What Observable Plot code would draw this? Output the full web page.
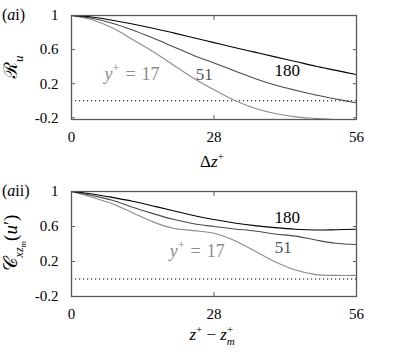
<!DOCTYPE html>
<html><head><meta charset="utf-8">
<script src="https://cdn.jsdelivr.net/npm/d3@7"></script>
<script src="https://cdn.jsdelivr.net/npm/@observablehq/plot@0.6"></script>
<style>
body{margin:0;background:#fff}
#chart{width:395px;height:353px}
#chart svg{display:block}
</style>
</head><body><div id="chart"></div><script>
// ---- data ----
const dz = [0, 4, 8, 12, 16, 20, 24, 28, 32, 36, 40, 44, 48, 52, 56];
// panel (ai): R_u
const ru17  = [1, 0.95, 0.855, 0.719, 0.578, 0.42, 0.264, 0.129, 0.005, -0.088, -0.15, -0.189, -0.207, -0.222, -0.23];
const ru51  = [1, 0.968, 0.91, 0.83, 0.735, 0.634, 0.532, 0.443, 0.353, 0.262, 0.185, 0.123, 0.068, 0.02, -0.024];
const ru180 = [1, 0.982, 0.945, 0.901, 0.851, 0.796, 0.739, 0.682, 0.625, 0.57, 0.515, 0.461, 0.405, 0.356, 0.306];
// panel (aii): C_xzm(u')
const c17  = [1, 0.935, 0.86, 0.758, 0.653, 0.58, 0.553, 0.522, 0.44, 0.321, 0.196, 0.102, 0.05, 0.041, 0.041];
const c51  = [1, 0.955, 0.9, 0.82, 0.747, 0.682, 0.632, 0.60, 0.572, 0.549, 0.515, 0.49, 0.445, 0.408, 0.394];
const c180 = [1, 0.972, 0.933, 0.889, 0.835, 0.781, 0.726, 0.68, 0.64, 0.61, 0.587, 0.569, 0.56, 0.563, 0.569];

const xTicks = [0, 28, 56];
const xTickLabels = ["0", "28", "56"];
const yTicks = [-0.2, 0.2, 0.6, 1];
const yTickLabels = ["-0.2", "0.2", "0.6", "1"];

const seriesNames = ["17", "51", "180"];
const seriesColors = {"17": "#8c8c8c", "51": "#4a4a4a", "180": "#000000"};
const labelColors = {"17": "#8c8c8c", "51": "#555555", "180": "#000000"};

// curve labels (data coordinates)
const labelsA = [
  {key: "17", x: 12.0, y: 0.307},
  {key: "51", x: 26.1, y: 0.307},
  {key: "180", x: 42.4, y: 0.36}
];
const labelsB = [
  {key: "17", x: 24.8, y: 0.309},
  {key: "51", x: 41.6, y: 0.354},
  {key: "180", x: 42.4, y: 0.697}
];

const FONT = "'Liberation Serif', 'DejaVu Serif', 'Noto Serif', 'Times New Roman', Times, 'Liberation Sans', serif";
const frameColor = "#5a5a5a";

function panel(height, yDomain, vals, labels) {
  const marks = [
    Plot.ruleY([0], {stroke: "#000", strokeWidth: 1, strokeDasharray: "1.2,2.8"})
  ];
  seriesNames.forEach((k, j) => {
    const rows = dz.map((x, i) => ({x, y: vals[j][i]}));
    marks.push(Plot.line(rows, {x: "x", y: "y", stroke: seriesColors[k], strokeWidth: 1.1, curve: "catmull-rom", clip: true}));
  });
  marks.push(
    Plot.frame({stroke: frameColor, strokeWidth: 1.3}),
    Plot.axisY(yTicks, {anchor: "left", tickSize: 0, tickPadding: 13, fontSize: 15, tickFormat: d => yTickLabels[yTicks.indexOf(d)], label: null}),
    Plot.axisY(yTicks, {anchor: "left", tickSize: -4, stroke: frameColor, fill: "none", label: null}),
    Plot.axisY(yTicks, {anchor: "right", tickSize: -4, stroke: frameColor, fill: "none", label: null}),
    Plot.axisX(xTicks, {anchor: "bottom", tickSize: 0, tickPadding: 12, fontSize: 15, tickFormat: d => xTickLabels[xTicks.indexOf(d)], label: null}),
    Plot.axisX(xTicks, {anchor: "bottom", tickSize: -4, stroke: frameColor, fill: "none", label: null}),
    Plot.axisX(xTicks, {anchor: "top", tickSize: -4, stroke: frameColor, fill: "none", label: null}),
    Plot.text(labels.filter(d => d.key !== "17"), {x: "x", y: "y", text: "key", fill: d => labelColors[d.key], fontSize: 17})
  );
  return Plot.plot({
    width: 395, height,
    marginLeft: 71, marginRight: 39, marginTop: 15, marginBottom: 57,
    x: {domain: [0, 56], label: null},
    y: {domain: yDomain, label: null},
    style: {fontFamily: FONT, fontSize: "16px", color: "#000", background: "#fff", overflow: "visible"},
    marks
  });
}

// rich text helper: parts = [{t, it, sh (em shift, + is up), fs, dx}]
function rich(svg, x, y, parts, opts = {}) {
  const base = opts.size || 16;
  const g = d3.select(svg).append("text")
    .attr("font-family", FONT)
    .attr("font-size", base)
    .attr("fill", opts.fill || "#000")
    .attr("text-anchor", opts.anchor || "middle")
    .attr("transform", `translate(${x},${y})` + (opts.rotate ? ` rotate(${opts.rotate})` : ""));
  let cur = 0;
  parts.forEach(p => {
    if (typeof p === "string") p = {t: p};
    const sh = p.sh || 0;
    const span = g.append("tspan").text(p.t);
    span.attr("dy", (cur - sh) * base);
    cur = sh;
    if (p.dx) span.attr("dx", p.dx);
    if (p.it) span.attr("font-style", "italic");
    if (p.fs) span.attr("font-size", p.fs);
  });
  return g;
}

const root = document.getElementById("chart");

const svgA = panel(176, [-0.22, 1], [ru17, ru51, ru180], labelsA);
root.appendChild(svgA);
const svgB = panel(177, [-0.2, 1], [c17, c51, c180], labelsB);
root.appendChild(svgB);

function decorate(svg, labels, panelParts, yTitleParts, yTitleY, xTitleParts, xTitleY) {
  const sx = svg.scale("x"), sy = svg.scale("y");
  const l17 = labels.find(d => d.key === "17");
  rich(svg, sx.apply(l17.x), sy.apply(l17.y) + 6,
    [{t: "y", it: true}, {t: "+", sh: 0.45, fs: 12}, {t: "=", sh: 0, dx: 6}, {t: "17", dx: 6}], {fill: labelColors["17"], size: 18});
  rich(svg, 2, 20, panelParts, {anchor: "start", size: 16});
  rich(svg, 17, yTitleY, yTitleParts, {rotate: -90, size: 19});
  rich(svg, 212, xTitleY, xTitleParts, {size: 17});
}

decorate(svgA, labelsA,
  ["(", {t: "a", it: true}, "i)"],
  ["ℛ", {t: "u", it: true, sh: -0.3, fs: 13}],
  67,
  ["Δ", {t: "z", it: true}, {t: "+", sh: 0.4, fs: 11}],
  167);

decorate(svgB, labelsB,
  ["(", {t: "a", it: true}, "ii)"],
  [{t: "𝒞"}, {t: "xz", it: true, sh: -0.3, fs: 12}, {t: "m", it: true, sh: -0.45, fs: 9}, {t: "(", sh: 0}, {t: "u", it: true}, "′)"],
  67,
  [{t: "z", it: true}, {t: "+", sh: 0.4, fs: 11}, {t: " − ", sh: 0}, {t: "z", it: true}, {t: "+", sh: 0.4, fs: 11}, {t: "m", it: true, sh: -0.3, fs: 11, dx: -6.5}],
  164);
</script></body></html>
